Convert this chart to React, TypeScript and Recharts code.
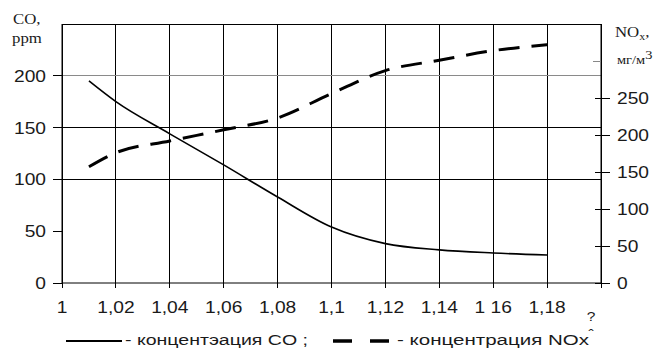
import { LineChart, Line, XAxis, YAxis, CartesianGrid, ReferenceLine, Legend } from 'recharts';

// coefficient of excess air (lambda) and measured concentrations
const lambdaValues = [1.01, 1.02, 1.04, 1.06, 1.08, 1.1, 1.12, 1.14, 1.16, 1.18];
const coValues = [195, 175, 144, 114, 83, 54, 38, 32, 29, 27];
const noxValues = [157, 176, 192, 207, 223, 256, 287, 301, 314, 322];

const xTicks = [1, 1.02, 1.04, 1.06, 1.08, 1.1, 1.12, 1.14, 1.16, 1.18, 1.2];
const xTickLabels = ['1', '1,02', '1,04', '1,06', '1,08', '1,1', '1,12', '1,14', '1 16', '1,18', '?'];
const coTicks = [0, 50, 100, 150, 200];
const noxTicks = [0, 50, 100, 150, 200, 250, 300];
const coGridLines = [100, 150];
const legendLabels = ['- концентэация CO ;', '- концентрация NOx'];

const data = lambdaValues.map((x, i) => ({ x, co: coValues[i], nox: noxValues[i] }));

const SANS = '"Liberation Sans", Arial, sans-serif';
const SERIF = '"Liberation Serif", "Times New Roman", serif';

// old bitmap-ish text is wider than normal, stretch it a bit
const SText = ({ x, y, anchor = 'start', size = 16, font = SANS, children }: any) => (
  <text
    transform={`translate(${x} ${y}) scale(1.2 1)`}
    textAnchor={anchor}
    fontFamily={font}
    fontSize={size}
    fill="#1a1a1a"
  >
    {children}
  </text>
);

const XTick = ({ x, y, index }: any) => {
  const last = index === xTicks.length - 1;
  return (
    <g>
      <line x1={x} y1={y - 4} x2={x} y2={y + 5} stroke="#000" shapeRendering="crispEdges" />
      {last ? (
        <>
          <SText x={x - 10} y={y + 38} size={13} anchor="middle">?</SText>
          <SText x={x - 10} y={y + 56} size={13} anchor="middle">ˆ</SText>
        </>
      ) : (
        <SText x={x} y={y + 30} anchor="middle">{xTickLabels[index]}</SText>
      )}
    </g>
  );
};

const CoTick = ({ x, y, payload }: any) => (
  <g>
    <line x1={x - 9} y1={y} x2={x + 1} y2={y} stroke="#000" shapeRendering="crispEdges" />
    <SText x={x - 16} y={y + 6} anchor="end">{payload.value}</SText>
  </g>
);

const NoxTick = ({ x, y, payload }: any) => {
  if (payload.value === 300) {
    return <line x1={x - 8} y1={y} x2={x} y2={y} stroke="#888" shapeRendering="crispEdges" />;
  }
  return (
    <g>
      <line x1={x - 6} y1={y} x2={x + 9} y2={y} stroke="#000" shapeRendering="crispEdges" />
      <SText x={x + 16} y={y + 6}>{payload.value}</SText>
    </g>
  );
};

const CoTitle = () => (
  <g>
    <SText x={13} y={24} size={14} font={SERIF}>CO,</SText>
    <SText x={12} y={43} size={14} font={SERIF}>ppm</SText>
  </g>
);

const NoxTitle = () => (
  <g>
    <SText x={615} y={37} size={14} font={SERIF}>
      NO<tspan fontSize={10} dy={3}>x</tspan><tspan dy={-3}>,</tspan>
    </SText>
    <SText x={617} y={64} size={12} font={SERIF}>
      мг/м<tspan fontSize={12} dy={-5}>3</tspan>
    </SText>
  </g>
);

const renderLegend = ({ payload }: any) => {
  const items = payload || [];
  const co = items.find((p: any) => p.dataKey === 'co');
  const nox = items.find((p: any) => p.dataKey === 'nox');
  return (
    <svg width={660} height={30} style={{ display: 'block' }}>
      <line x1={66} y1={15} x2={122} y2={15} stroke={co?.color || '#000'} strokeWidth={2} />
      <text x={125} y={19} textLength={183} lengthAdjust="spacingAndGlyphs" fontFamily={SANS} fontSize={14} fill="#1a1a1a">
        {co?.value ?? legendLabels[0]}
      </text>
      <line x1={333} y1={15} x2={389} y2={15} stroke={nox?.color || '#000'} strokeWidth={3.5} strokeDasharray="19 18" />
      <text x={397} y={19} textLength={192} lengthAdjust="spacingAndGlyphs" fontFamily={SANS} fontSize={14} fill="#1a1a1a">
        {nox?.value ?? legendLabels[1]}
      </text>
    </svg>
  );
};

export default function App() {
  return (
    <div style={{ position: 'absolute', left: 0, top: 0, width: 660, height: 360, background: '#fff' }}>
      <LineChart width={660} height={360} data={data} margin={{ top: 24, right: 0, bottom: 47, left: 0 }}>
        <CartesianGrid yAxisId="co" horizontal={false} stroke="#000" shapeRendering="crispEdges" />
        <XAxis
          dataKey="x"
          type="number"
          domain={[1, 1.2]}
          ticks={xTicks}
          interval={0}
          height={30}
          tickSize={0}
          tickMargin={0}
          tickLine={false}
          axisLine={{ stroke: '#000' }}
          tick={<XTick />}
        />
        <YAxis
          yAxisId="co"
          domain={[0, 250]}
          ticks={coTicks}
          interval={0}
          width={62}
          tickSize={0}
          tickMargin={0}
          tickLine={false}
          axisLine={{ stroke: '#000' }}
          tick={<CoTick />}
          label={<CoTitle />}
        />
        <YAxis
          yAxisId="nox"
          orientation="right"
          domain={[0, 350]}
          ticks={noxTicks}
          interval={0}
          width={59}
          tickSize={0}
          tickMargin={0}
          tickLine={false}
          axisLine={{ stroke: '#000' }}
          tick={<NoxTick />}
          label={<NoxTitle />}
        />
        {coGridLines.map((v) => (
          <ReferenceLine key={v} yAxisId="co" y={v} stroke="#000" shapeRendering="crispEdges" />
        ))}
        <ReferenceLine yAxisId="co" y={200} stroke="#8a8a8a" shapeRendering="crispEdges" />
        <ReferenceLine yAxisId="co" y={250} stroke="#000" shapeRendering="crispEdges" />
        <Line
          yAxisId="co"
          dataKey="co"
          name={legendLabels[0]}
          type="monotone"
          stroke="#000"
          strokeWidth={1.6}
          dot={false}
          isAnimationActive={false}
        />
        <Line
          yAxisId="nox"
          dataKey="nox"
          name={legendLabels[1]}
          type="monotone"
          stroke="#000"
          strokeWidth={3}
          strokeDasharray="21 12"
          dot={false}
          isAnimationActive={false}
        />
        <Legend
          layout="vertical"
          verticalAlign="middle"
          align="center"
          content={renderLegend}
          wrapperStyle={{ left: 0, top: 326, width: 660, height: 30 }}
        />
      </LineChart>
    </div>
  );
}
